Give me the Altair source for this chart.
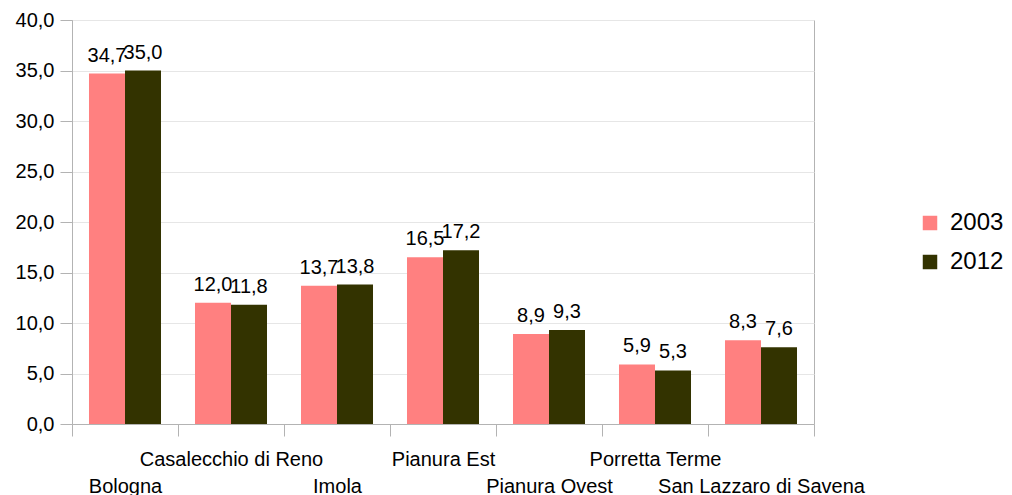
import json
import altair as alt
import pandas as pd

categories = ["Bologna", "Casalecchio di Reno", "Imola", "Pianura Est",
              "Pianura Ovest", "Porretta Terme", "San Lazzaro di Savena"]
v2003 = [34.7, 12.0, 13.7, 16.5, 8.9, 5.9, 8.3]
v2012 = [35.0, 11.8, 13.8, 17.2, 9.3, 5.3, 7.6]
years = ["2003", "2012"]
colors = ["#ff8080", "#333300"]
y_ticks = [0, 5, 10, 15, 20, 25, 30, 35, 40]

rows = []
for c, a, b in zip(categories, v2003, v2012):
    rows.append({"area": c, "year": years[0], "value": a})
    rows.append({"area": c, "year": years[1], "value": b})
df = pd.DataFrame(rows)

lower = categories[0::2]
label_expr = f"indexof({json.dumps(lower)}, datum.value) >= 0 ? ['', datum.value] : datum.value"

FONT = "Liberation Sans"
GRAY = "#b3b3b3"

base = alt.Chart(df).encode(
    x=alt.X(
        "area:N", sort=categories,
        scale=alt.Scale(paddingInner=0, paddingOuter=0),
        axis=alt.Axis(
            title=None, labelAngle=0, tickBand="extent", tickSize=12,
            labelPadding=13, labelExpr=label_expr, labelOverlap=False,
            labelLineHeight=27, labelFontSize=20, labelColor="black",
            labelFont=FONT, labelBaseline="top", domainColor=GRAY,
            tickColor=GRAY, grid=False, labelLimit=0,
        ),
    ),
    xOffset=alt.XOffset("year:N", sort=years,
                        scale=alt.Scale(paddingOuter=0.472, paddingInner=0)),
)

bars = base.mark_bar().encode(
    y=alt.Y(
        "value:Q",
        scale=alt.Scale(domain=[0, 40], nice=False),
        axis=alt.Axis(
            title=None, values=y_ticks,
            labelExpr="replace(format(datum.value, '.1f'), '.', ',')",
            tickSize=12, labelPadding=6, labelFontSize=20, labelColor="black",
            labelFont=FONT, domainColor=GRAY, tickColor=GRAY,
            grid=True, gridColor="#e6e6e6",
        ),
    ),
    color=alt.Color(
        "year:N", sort=years,
        scale=alt.Scale(domain=years, range=colors),
        legend=alt.Legend(
            title=None, orient="none", legendX=846, legendY=191,
            symbolType="square", symbolSize=210, symbolStrokeWidth=0,
            labelFontSize=24, labelFont=FONT, labelColor="black",
            labelOffset=8, rowPadding=15, padding=0, labelLimit=0,
        ),
    ),
)

labels = base.transform_calculate(
    lbl="replace(format(datum.value, '.1f'), '.', ',')"
).mark_text(
    dy=-12, baseline="alphabetic", fontSize=20, font=FONT, color="black"
).encode(
    y=alt.Y("value:Q"),
    text="lbl:N",
)

chart = alt.layer(bars, labels).properties(
    width=742, height=404,
    autosize=alt.AutoSizeParams(type="none"),
    padding={"left": 64, "top": 12, "right": 190, "bottom": 71},
).configure(font=FONT).configure_view(stroke=GRAY)

chart.save("out.html", embed_options={"renderer": "svg", "actions": False})
